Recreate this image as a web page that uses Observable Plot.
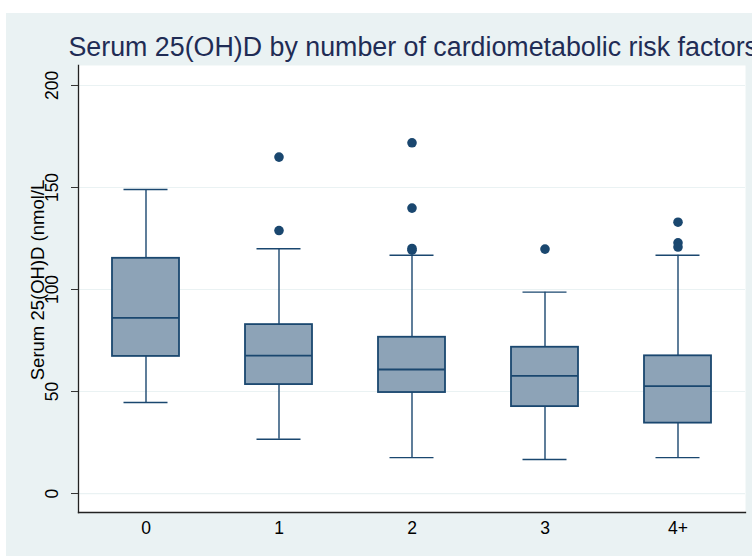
<!DOCTYPE html>
<html>
<head>
<meta charset="utf-8">
<script src="https://cdn.jsdelivr.net/npm/d3@7"></script>
<script src="https://cdn.jsdelivr.net/npm/@observablehq/plot@0.6"></script>
<style>
  html, body { margin: 0; padding: 0; background: #ffffff; width: 752px; height: 556px; overflow: hidden; }
  #bg { position: absolute; left: 6px; top: 13px; width: 746px; height: 543px; background: #eaf2f3; }
  #chart { position: absolute; left: 0; top: 0; }
</style>
</head>
<body>
<div id="bg"></div>
<div id="chart"></div>
<script>
// Categories: number of cardiometabolic risk factors
const categories = ["0", "1", "2", "3", "4+"];
// Box-plot summaries (nmol/L)
const lowerWhisker = [44.6, 26.6, 17.6, 16.7, 17.6];
const q1           = [67.2, 53.4, 49.5, 42.6, 34.5];
const median       = [86.1, 67.6, 60.8, 57.7, 52.6];
const q3           = [115.3, 82.8, 76.6, 71.7, 67.5];
const upperWhisker = [149.0, 120.0, 116.8, 98.7, 116.8];
// Outside values
const outlierCategory = ["1", "1", "2", "2", "2", "2", "3", "4+", "4+", "4+"];
const outlierValue    = [164.9, 128.9, 171.9, 139.9, 120.1, 119.3, 119.8, 133.0, 122.9, 120.8];
// Axis ticks
const yTicks = [0, 50, 100, 150, 200];
const yDomain = [-9.3, 209.8];

const titleText = "Serum 25(OH)D by number of cardiometabolic risk factors";
const yTitle = "Serum 25(OH)D (nmol/L";

const stats = categories.map((c, i) => ({
  cat: c, lo: lowerWhisker[i], q1: q1[i], med: median[i], q3: q3[i], hi: upperWhisker[i]
}));
const outliers = outlierCategory.map((c, i) => ({cat: c, v: outlierValue[i]}));

const navy = "#1a476f";
const boxFill = "#8da3b7";
const font = "'Liberation Sans', Arial, Helvetica, sans-serif";

const plot = Plot.plot({
  width: 752,
  height: 556,
  marginLeft: 78,
  marginRight: 7,
  marginTop: 65,
  marginBottom: 44,
  style: {background: "transparent", fontFamily: font, fontSize: "17px", overflow: "visible"},
  x: {type: "band", domain: categories, paddingInner: 0.5, paddingOuter: 0.25, label: null},
  y: {domain: yDomain, label: null},
  marks: [
    Plot.frame({fill: "white", stroke: null}),
    Plot.gridY(yTicks, {stroke: "#eaf2f3", strokeOpacity: 1, strokeWidth: 1.2}),
    // whiskers
    Plot.ruleX(stats, {x: "cat", y1: "q3", y2: "hi", stroke: navy, strokeWidth: 1.4}),
    Plot.ruleX(stats, {x: "cat", y1: "lo", y2: "q1", stroke: navy, strokeWidth: 1.4}),
    Plot.tickY(stats, {x: "cat", y: "hi", stroke: navy, strokeWidth: 1.4, insetLeft: 11.5, insetRight: 11.5}),
    Plot.tickY(stats, {x: "cat", y: "lo", stroke: navy, strokeWidth: 1.4, insetLeft: 11.5, insetRight: 11.5}),
    // boxes
    Plot.barY(stats, {x: "cat", y1: "q1", y2: "q3", fill: boxFill, stroke: navy, strokeWidth: 1.8}),
    Plot.tickY(stats, {x: "cat", y: "med", stroke: navy, strokeWidth: 1.8}),
    // outside values
    Plot.dot(outliers, {x: "cat", y: "v", r: 4.8, fill: navy, stroke: null}),
    // axes
    Plot.frame({anchor: "left", stroke: "#222", strokeWidth: 1.3}),
    Plot.frame({anchor: "bottom", stroke: "#222", strokeWidth: 1.3}),
    Plot.axisY({ticks: yTicks, tickSize: 7, tickRotate: -90, tickPadding: 14, stroke: "#333", fill: "black", fontSize: 17.5, label: null}),
    Plot.axisX({tickSize: 0, tickPadding: 9, fill: "black", fontSize: 17.5, label: null}),
    // y-axis title
    Plot.text([yTitle], {frameAnchor: "left", rotate: -90, textAnchor: "middle", lineAnchor: "bottom",
      dx: -35, dy: -9, fontSize: 18.5, fill: "black"}),
    // chart title
    Plot.text([titleText], {frameAnchor: "top-left", textAnchor: "start", lineAnchor: "bottom",
      dx: -10, dy: -10, fontSize: 26.8, fill: "#1f2c55"})
  ]
});
document.getElementById("chart").appendChild(plot);
</script>
</body>
</html>
